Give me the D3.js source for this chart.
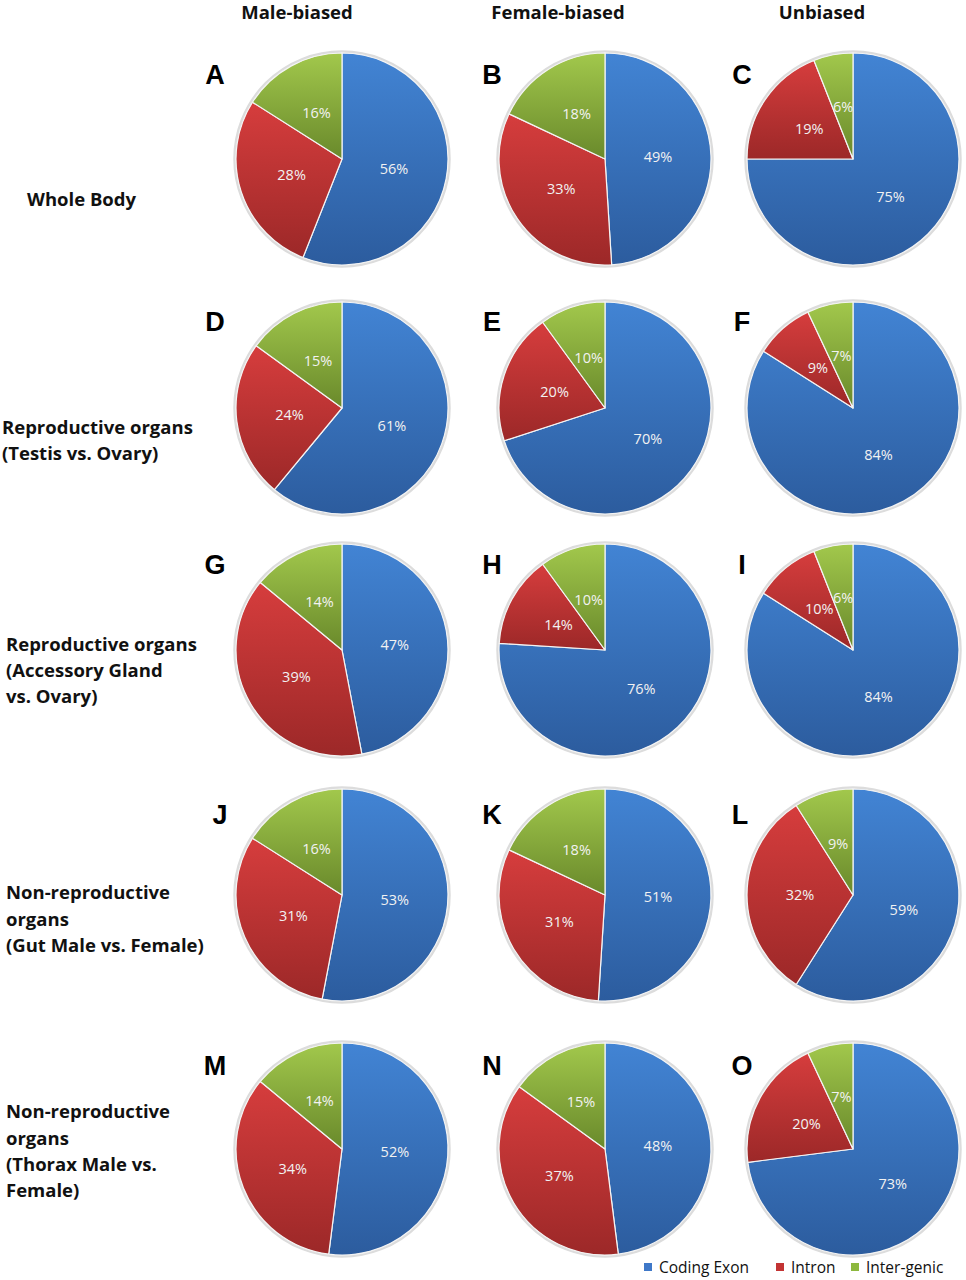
<!DOCTYPE html>
<html>
<head>
<meta charset="utf-8">
<script src="https://cdn.jsdelivr.net/npm/d3@7"></script>
<style>
  html, body { margin: 0; padding: 0; background: #fff; }
  svg { display: block; }
</style>
</head>
<body>
<svg id="chart" width="966" height="1280"></svg>
<script>
// ========= Data =========
const columns = ["Male-biased", "Female-biased", "Unbiased"];
const rowLabels = [
  ["Whole Body"],
  ["Reproductive organs", "(Testis vs. Ovary)"],
  ["Reproductive organs", "(Accessory Gland", "vs. Ovary)"],
  ["Non-reproductive", "organs", "(Gut Male vs. Female)"],
  ["Non-reproductive", "organs", "(Thorax Male vs.", "Female)"]
];
const panelLetters = ["A","B","C","D","E","F","G","H","I","J","K","L","M","N","O"];
const categories = ["Coding Exon", "Intron", "Inter-genic"];

// percentages per panel, row-major (A..O)
const codingExon = [56, 49, 75, 61, 70, 84, 47, 76, 84, 53, 51, 59, 52, 48, 73];
const intron     = [28, 33, 19, 24, 20,  9, 39, 14, 10, 31, 31, 32, 34, 37, 20];
const interGenic = [16, 18,  6, 15, 10,  7, 14, 10,  6, 16, 18,  9, 14, 15,  7];

// ========= Layout =========
const colX = [342, 605, 853];
const rowY = [159, 408, 650, 895, 1149];
const R = 106;
const letterPos = [
  [215, 75], [492, 75], [742, 75],
  [215, 322], [492, 322], [742, 322],
  [215, 565], [492, 565], [742, 565],
  [220, 815], [492, 815], [740, 815],
  [215, 1066], [492, 1066], [742, 1066]
];
const rowLabelPos = [
  { x: 27, y: 200, lh: 26 },
  { x: 2, y: 428, lh: 26 },
  { x: 6, y: 645, lh: 26 },
  { x: 6, y: 893, lh: 26.5 },
  { x: 6, y: 1112, lh: 26.3 }
];
const headerX = [297, 558, 822];

const colors = {
  "Coding Exon": { top: "#4284d4", bottom: "#2c5c9e", key: "#3f78c8" },
  "Intron":      { top: "#d63d3d", bottom: "#9c2828", key: "#c33434" },
  "Inter-genic": { top: "#a2c84c", bottom: "#69892b", key: "#8db83e" }
};

const svg = d3.select("#chart");
const textFont = "'Open Sans', Lato, sans-serif";

// ========= Gradients =========
const defs = svg.append("defs");
categories.forEach((c, i) => {
  const g = defs.append("linearGradient")
    .attr("id", "grad" + i)
    .attr("x1", 0).attr("y1", 0).attr("x2", 0).attr("y2", 1);
  g.append("stop").attr("offset", "0%").attr("stop-color", colors[c].top);
  g.append("stop").attr("offset", "100%").attr("stop-color", colors[c].bottom);
});

// ========= Headers =========
svg.selectAll("text.header")
  .data(columns)
  .join("text")
  .attr("class", "header")
  .attr("x", (d, i) => headerX[i])
  .attr("y", 13)
  .attr("dy", "0.35em")
  .attr("text-anchor", "middle")
  .attr("font-family", textFont)
  .attr("font-weight", "bold")
  .attr("font-size", 18.5)
  .attr("fill", "#111")
  .text(d => d);

// ========= Row labels =========
rowLabels.forEach((lines, r) => {
  const p = rowLabelPos[r];
  svg.append("text")
    .attr("font-family", textFont)
    .attr("font-weight", "bold")
    .attr("font-size", 18.5)
    .attr("fill", "#111")
    .selectAll("tspan")
    .data(lines)
    .join("tspan")
    .attr("x", p.x)
    .attr("y", (d, i) => p.y + i * p.lh)
    .attr("dy", "0.35em")
    .text(d => d);
});

// ========= Pies =========
const pie = d3.pie().sort(null).value(d => d.value);
const arc = d3.arc().innerRadius(0).outerRadius(R);
const labelArc = d3.arc().innerRadius(R * 0.5).outerRadius(R * 0.5);

panelLetters.forEach((letter, k) => {
  const row = Math.floor(k / 3), col = k % 3;
  const data = [
    { cat: categories[0], idx: 0, value: codingExon[k] },
    { cat: categories[1], idx: 1, value: intron[k] },
    { cat: categories[2], idx: 2, value: interGenic[k] }
  ];
  const g = svg.append("g")
    .attr("transform", `translate(${colX[col]},${rowY[row]})`);

  // soft outer rim
  g.append("circle")
    .attr("r", R + 1.5)
    .attr("fill", "none")
    .attr("stroke", "#dcdcdc")
    .attr("stroke-width", 2.5);

  g.selectAll("path")
    .data(pie(data))
    .join("path")
    .attr("d", arc)
    .attr("fill", d => `url(#grad${d.data.idx})`)
    .attr("stroke", "#f4f4f4")
    .attr("stroke-width", 1.2)
    .attr("stroke-linejoin", "round");

  g.selectAll("text")
    .data(pie(data))
    .join("text")
    .attr("transform", d => `translate(${labelArc.centroid(d)})`)
    .attr("text-anchor", "middle")
    .attr("dy", "0.35em")
    .attr("font-family", textFont)
    .attr("font-size", 14.5)
    .attr("fill", "#f2f2f2")
    .text(d => d.data.value + "%");

  svg.append("text")
    .attr("x", letterPos[k][0])
    .attr("y", letterPos[k][1])
    .attr("dy", "0.35em")
    .attr("text-anchor", "middle")
    .attr("font-family", "'Liberation Sans', Arial, sans-serif")
    .attr("font-weight", "bold")
    .attr("font-size", 27)
    .attr("fill", "#000")
    .text(letter);
});

// ========= Legend =========
const legendX = [648, 780, 855];
const legend = svg.append("g");
categories.forEach((c, i) => {
  legend.append("rect")
    .attr("x", legendX[i] - 4)
    .attr("y", 1263)
    .attr("width", 8)
    .attr("height", 8)
    .attr("fill", colors[c].key);
  legend.append("text")
    .attr("x", legendX[i] + 11)
    .attr("y", 1268)
    .attr("dy", "0.35em")
    .attr("font-family", textFont)
    .attr("font-size", 15.5)
    .attr("fill", "#111")
    .text(c);
});
</script>
</body>
</html>
